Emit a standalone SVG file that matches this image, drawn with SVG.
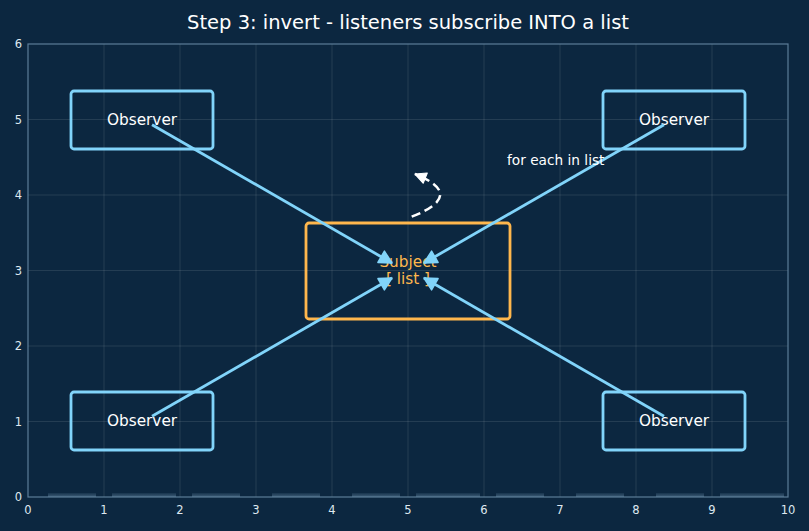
<svg xmlns="http://www.w3.org/2000/svg" width="809" height="531" viewBox="0 0 809 531">
<defs>
<style>
text{font-family:"DejaVu Sans","Liberation Sans",sans-serif}
.tick{fill:#dfe8f0;font-size:11.5px}
.grid{stroke:#ffffff;stroke-opacity:0.13;stroke-width:0.8}
.obs rect{fill:none;stroke:#81d4fa;stroke-width:2.8}
.obs text{fill:#ffffff;font-size:15.3px;text-anchor:middle}
.conn{stroke:#81d4fa;stroke-width:2.8;fill:none}
.bar{fill:url(#barg)}
</style>
<linearGradient id="barg" x1="0" y1="0" x2="0" y2="1">
<stop offset="0" stop-color="#7da3c0" stop-opacity="0.1"/>
<stop offset="1" stop-color="#7da3c0" stop-opacity="0.45"/>
</linearGradient>
<marker id="ah" markerUnits="userSpaceOnUse" viewBox="-3 -3 19 19" markerWidth="19" markerHeight="19" refX="12.5" refY="6.5" orient="auto">
<path d="M0,0 L12.5,6.5 L0,13 Z" fill="#81d4fa" stroke="#81d4fa" stroke-width="1.5" stroke-linejoin="round"/>
</marker>
<marker id="wh" markerUnits="userSpaceOnUse" viewBox="-3 -3 17 17" markerWidth="17" markerHeight="17" refX="11" refY="5.5" orient="auto">
<path d="M0,0 L11,5.5 L0,11 Z" fill="#ffffff" stroke="#ffffff" stroke-width="1.2" stroke-linejoin="round"/>
</marker>
</defs>
<rect width="809" height="531" fill="#0c2740"/>
<text x="408" y="29" fill="#ffffff" font-size="19.5px" text-anchor="middle">Step 3: invert - listeners subscribe INTO a list</text>
<g id="grid">
<line class="grid" x1="104" y1="44" x2="104" y2="497"/>
<line class="grid" x1="180" y1="44" x2="180" y2="497"/>
<line class="grid" x1="256" y1="44" x2="256" y2="497"/>
<line class="grid" x1="332" y1="44" x2="332" y2="497"/>
<line class="grid" x1="408" y1="44" x2="408" y2="497"/>
<line class="grid" x1="484" y1="44" x2="484" y2="497"/>
<line class="grid" x1="560" y1="44" x2="560" y2="497"/>
<line class="grid" x1="636" y1="44" x2="636" y2="497"/>
<line class="grid" x1="712" y1="44" x2="712" y2="497"/>
<line class="grid" x1="28" y1="421.5" x2="788" y2="421.5"/>
<line class="grid" x1="28" y1="346" x2="788" y2="346"/>
<line class="grid" x1="28" y1="270.5" x2="788" y2="270.5"/>
<line class="grid" x1="28" y1="195" x2="788" y2="195"/>
<line class="grid" x1="28" y1="119.5" x2="788" y2="119.5"/>
</g>
<g id="bars">
<rect class="bar" x="48" y="493" width="48" height="4"/>
<rect class="bar" x="112" y="493" width="64" height="4"/>
<rect class="bar" x="192" y="493" width="48" height="4"/>
<rect class="bar" x="272" y="493" width="48" height="4"/>
<rect class="bar" x="352" y="493" width="48" height="4"/>
<rect class="bar" x="416" y="493" width="64" height="4"/>
<rect class="bar" x="496" y="493" width="48" height="4"/>
<rect class="bar" x="576" y="493" width="48" height="4"/>
<rect class="bar" x="656" y="493" width="48" height="4"/>
<rect class="bar" x="720" y="493" width="64" height="4"/>
</g>
<rect x="28" y="44" width="760" height="453" fill="none" stroke="#5d7d98" stroke-width="1.2"/>
<g id="ticks">
<text class="tick" x="28" y="514" text-anchor="middle">0</text>
<text class="tick" x="104" y="514" text-anchor="middle">1</text>
<text class="tick" x="180" y="514" text-anchor="middle">2</text>
<text class="tick" x="256" y="514" text-anchor="middle">3</text>
<text class="tick" x="332" y="514" text-anchor="middle">4</text>
<text class="tick" x="408" y="514" text-anchor="middle">5</text>
<text class="tick" x="484" y="514" text-anchor="middle">6</text>
<text class="tick" x="560" y="514" text-anchor="middle">7</text>
<text class="tick" x="636" y="514" text-anchor="middle">8</text>
<text class="tick" x="712" y="514" text-anchor="middle">9</text>
<text class="tick" x="788" y="514" text-anchor="middle">10</text>
<text class="tick" x="22" y="501" text-anchor="end">0</text>
<text class="tick" x="22" y="425.5" text-anchor="end">1</text>
<text class="tick" x="22" y="350" text-anchor="end">2</text>
<text class="tick" x="22" y="274.5" text-anchor="end">3</text>
<text class="tick" x="22" y="199" text-anchor="end">4</text>
<text class="tick" x="22" y="123.5" text-anchor="end">5</text>
<text class="tick" x="22" y="48" text-anchor="end">6</text>
</g>
<g id="subject">
<rect x="306" y="223" width="204" height="96" rx="3" fill="none" stroke="#ffb74d" stroke-width="2.8"/>
<text x="408" y="267" fill="#ffb74d" font-size="15.3px" text-anchor="middle">Subject</text>
<text x="408" y="284" fill="#ffb74d" font-size="15.3px" text-anchor="middle">[ list ]</text>
</g>
<g id="obs-tl" class="obs"><rect x="71" y="91" width="142" height="58" rx="3"/><text x="142" y="125">Observer</text></g>
<g id="obs-tr" class="obs"><rect x="603" y="91" width="142" height="58" rx="3"/><text x="674" y="125">Observer</text></g>
<g id="obs-bl" class="obs"><rect x="71" y="392" width="142" height="58" rx="3"/><text x="142" y="426">Observer</text></g>
<g id="obs-br" class="obs"><rect x="603" y="392" width="142" height="58" rx="3"/><text x="674" y="426">Observer</text></g>
<g id="connectors">
<line class="conn" x1="152" y1="124.7" x2="392" y2="263" marker-end="url(#ah)"/>
<line class="conn" x1="664" y1="124.7" x2="424" y2="263" marker-end="url(#ah)"/>
<line class="conn" x1="152" y1="416.3" x2="392" y2="278" marker-end="url(#ah)"/>
<line class="conn" x1="664" y1="416.3" x2="424" y2="278" marker-end="url(#ah)"/>
<path d="M411.7,216.7 Q467,195 415,174" fill="none" stroke="#ffffff" stroke-width="2.5" stroke-dasharray="9,5" marker-end="url(#wh)"/>
</g>
<text x="507" y="165" fill="#ffffff" font-size="13.7px">for each in list</text>
</svg>
